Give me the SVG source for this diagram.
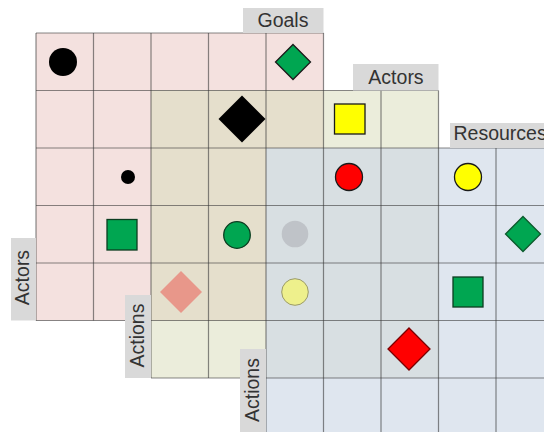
<svg xmlns="http://www.w3.org/2000/svg" width="544" height="432" viewBox="0 0 544 432">
<style>
.lbl{fill:#d9d9d9}
.txt{font-family:"Liberation Sans",Arial,sans-serif;font-size:19.5px;fill:#333}
.grid line{stroke:#3a3a3a;stroke-opacity:0.6;stroke-width:1.2}
.stk{stroke:#1a1a1a;stroke-width:1.3}
</style>
<rect width="544" height="432" fill="#ffffff"/>
<g id="fills">
<rect x="36" y="33" width="287.5" height="287.5" fill="#f4e1df"/>
<rect x="151" y="90.5" width="287.5" height="287.5" fill="#ebeddb"/>
<rect x="151" y="90.5" width="172.5" height="230" fill="#e5dfcc"/>
<rect x="266" y="148" width="287.5" height="287.5" fill="#dfe6ef"/>
<rect x="266" y="148" width="172.5" height="230" fill="#d8dfe2"/>
</g>
<g id="grid" class="grid">
<line x1="36" y1="33" x2="36" y2="320.5"/>
<line x1="93.5" y1="33" x2="93.5" y2="320.5"/>
<line x1="151" y1="33" x2="151" y2="378"/>
<line x1="208.5" y1="33" x2="208.5" y2="378"/>
<line x1="266" y1="33" x2="266" y2="432"/>
<line x1="323.5" y1="33" x2="323.5" y2="432"/>
<line x1="381" y1="90.5" x2="381" y2="432"/>
<line x1="438.5" y1="90.5" x2="438.5" y2="432"/>
<line x1="496" y1="148" x2="496" y2="432"/>
<line x1="36" y1="33" x2="323.5" y2="33"/>
<line x1="36" y1="90.5" x2="438.5" y2="90.5"/>
<line x1="36" y1="148" x2="544" y2="148"/>
<line x1="36" y1="205.5" x2="544" y2="205.5"/>
<line x1="36" y1="263" x2="544" y2="263"/>
<line x1="36" y1="320.5" x2="544" y2="320.5"/>
<line x1="151" y1="378" x2="544" y2="378"/>
</g>
<g id="labels">
<g id="label-goals"><rect class="lbl" x="243" y="8" width="80.5" height="25"/><text class="txt" x="283" y="27" text-anchor="middle">Goals</text></g>
<g id="label-actors-top"><rect class="lbl" x="353" y="64" width="85.5" height="26.5"/><text class="txt" x="396" y="84" text-anchor="middle">Actors</text></g>
<g id="label-resources"><rect class="lbl" x="450" y="123" width="94" height="25"/><text class="txt" x="453.5" y="140">Resources</text></g>
<g id="label-actors-left"><rect class="lbl" x="11" y="238" width="25" height="82.5"/><text class="txt" x="29" y="277.5" text-anchor="middle" transform="rotate(-90 29 277.5)">Actors</text></g>
<g id="label-actions-1"><rect class="lbl" x="125" y="295" width="26" height="83"/><text class="txt" x="144" y="335.5" text-anchor="middle" transform="rotate(-90 144 335.5)">Actions</text></g>
<g id="label-actions-2"><rect class="lbl" x="240" y="349" width="26" height="83"/><text class="txt" x="259" y="390" text-anchor="middle" transform="rotate(-90 259 390)">Actions</text></g>
</g>
<g id="markers">
<circle id="black-circle" cx="63" cy="62" r="14" fill="#000"/>
<polygon id="green-diamond-top" class="stk" points="293,44.5 310.5,62 293,79.5 275.5,62" fill="#00a651" stroke="#0b5a2c"/>
<polygon id="black-diamond" points="242,95.5 265.5,119 242,142.5 218.5,119" fill="#000"/>
<rect id="yellow-square" class="stk" x="334.5" y="104" width="30.5" height="30" fill="#ffff00"/>
<circle id="black-dot" cx="128" cy="177" r="7" fill="#000"/>
<circle id="red-circle" class="stk" cx="349" cy="177" r="13.5" fill="#ff0000"/>
<circle id="yellow-circle" class="stk" cx="468" cy="177" r="13.5" fill="#ffff00"/>
<rect id="green-square-left" x="107" y="219.5" width="30" height="30.5" fill="#00a651" stroke="#0b3d20" stroke-width="1.3"/>
<circle id="green-circle" cx="237" cy="235" r="13.3" fill="#00a651" stroke="#0b3d20" stroke-width="1.3"/>
<circle id="gray-circle" cx="295" cy="234" r="13.3" fill="#bfc3c8"/>
<polygon id="green-diamond-right" points="523,216.5 540.5,234 523,251.5 505.5,234" fill="#00a651" stroke="#0b5a2c" stroke-width="1.3"/>
<polygon id="salmon-diamond" points="181,271 202,292 181,313 160,292" fill="#e8978a"/>
<circle id="pale-yellow-circle" cx="295" cy="292" r="13.3" fill="#eef08c" stroke="#9a9a6a" stroke-width="1"/>
<rect id="green-square-right" x="453" y="277" width="30" height="30" fill="#00a651" stroke="#0b3d20" stroke-width="1.3"/>
<polygon id="red-diamond" points="409,328 430,349 409,370 388,349" fill="#ff0000" stroke="#7a0000" stroke-width="1.3"/>
</g>
</svg>
